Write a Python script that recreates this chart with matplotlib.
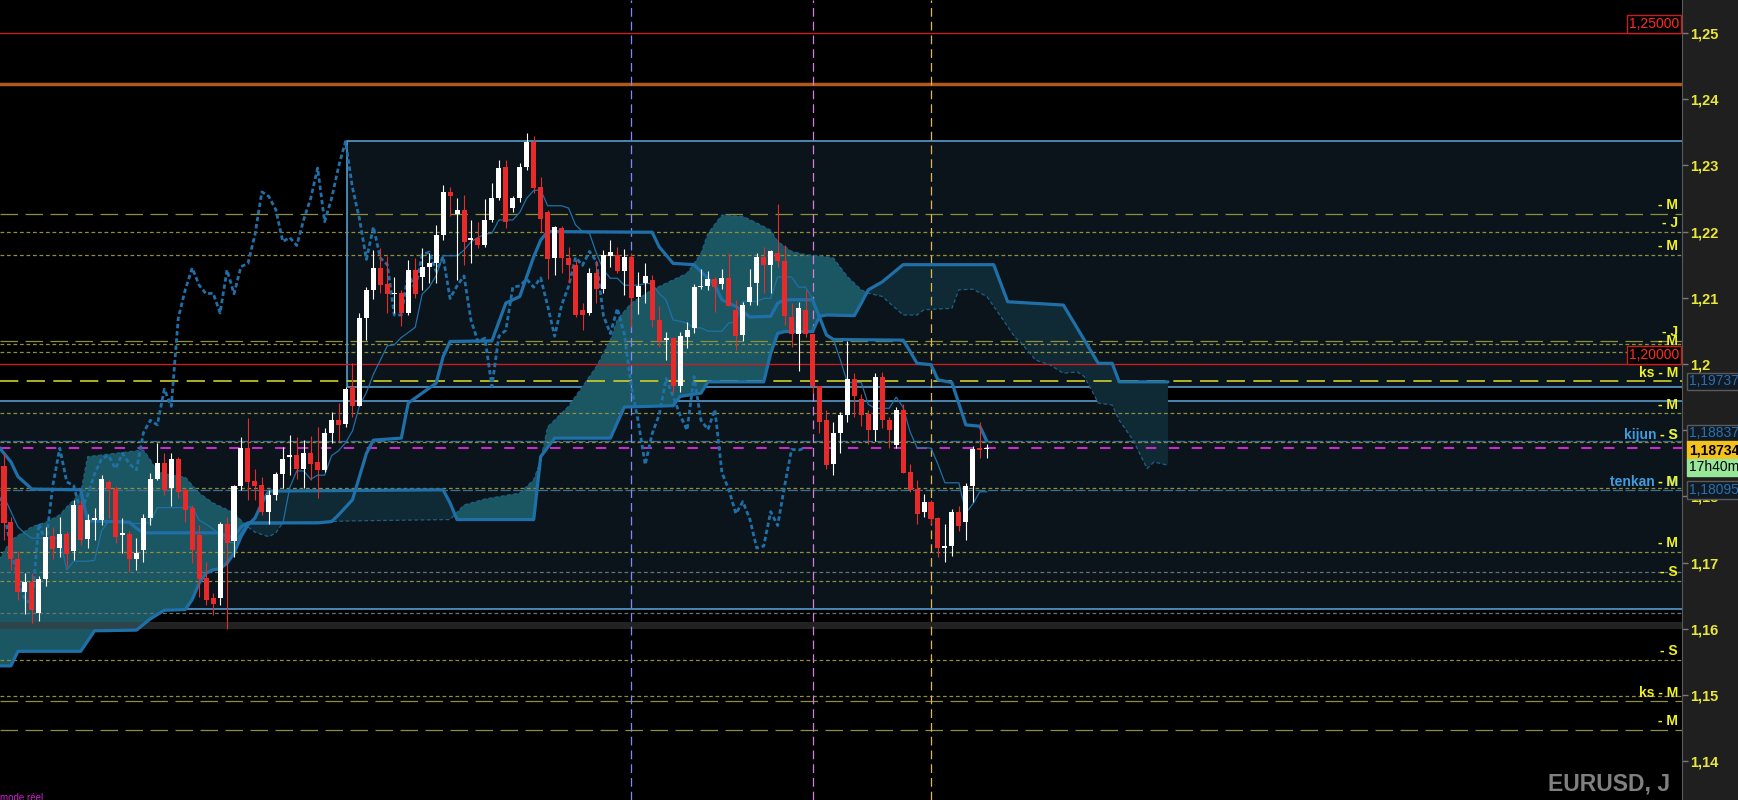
import numpy as np
import pandas as pd
import matplotlib
matplotlib.use('Agg')
import matplotlib.pyplot as plt
from matplotlib.patches import Rectangle
from matplotlib.transforms import blended_transform_factory

plt.rcParams['font.family'] = ['Liberation Sans', 'DejaVu Sans']

# daily EURUSD candles, index 0 = first visible bar
opens = [1.1846, 1.1762, 1.1705, 1.1656, 1.1671, 1.1624, 1.1675, 1.1740, 1.1722, 1.1743,
         1.1717, 1.1787, 1.1735, 1.1765, 1.1765, 1.1821, 1.1811, 1.1742, 1.1743, 1.1705,
         1.1719, 1.1767, 1.1827, 1.1850, 1.1812, 1.1857, 1.1809, 1.1782, 1.1742, 1.1676,
         1.1646, 1.1646, 1.1759, 1.1732, 1.1816, 1.1873, 1.1823, 1.1817, 1.1777, 1.1802,
         1.1834, 1.1859, 1.1862, 1.1842, 1.1865, 1.1852, 1.1840, 1.1896, 1.1915, 1.1910,
         1.1965, 1.1937, 1.2069, 1.2112, 1.2145, 1.2121, 1.2105, 1.2107, 1.2077, 1.2142,
         1.2132, 1.2147, 1.2152, 1.2195, 1.2260, 1.2227, 1.2233, 1.2187, 1.2191, 1.2180,
         1.2218, 1.2250, 1.2298, 1.2235, 1.2250, 1.2298, 1.2336, 1.2267, 1.2229, 1.2160,
         1.2206, 1.2160, 1.2150, 1.2081, 1.2077, 1.2137, 1.2114, 1.2163, 1.2165, 1.2140,
         1.2162, 1.2101, 1.2122, 1.2127, 1.2066, 1.2036, 1.2039, 1.1966, 1.2041, 1.2054,
         1.2116, 1.2118, 1.2128, 1.2121, 1.2130, 1.2082, 1.2044, 1.2093, 1.2122, 1.2161,
         1.2150, 1.2167, 1.2155, 1.2071, 1.2046, 1.2082, 1.2045, 1.1966, 1.1916, 1.1849,
         1.1895, 1.1923, 1.1978, 1.1947, 1.1925, 1.1901, 1.1980, 1.1916, 1.1878, 1.1931,
         1.1837, 1.1811, 1.1776, 1.1791, 1.1767, 1.1722, 1.1725, 1.1777, 1.1762, 1.1816,
         1.1873, 1.1871]
highs = [1.1865, 1.1769, 1.1717, 1.1685, 1.1684, 1.1679, 1.1754, 1.1754, 1.1769, 1.1747,
         1.1795, 1.1795, 1.1774, 1.1782, 1.1832, 1.1825, 1.1816, 1.1768, 1.1747, 1.1737,
         1.1774, 1.1836, 1.1880, 1.1865, 1.1865, 1.1860, 1.1812, 1.1787, 1.1757, 1.1701,
         1.1654, 1.1762, 1.1769, 1.1817, 1.1890, 1.1918, 1.1841, 1.1830, 1.1810, 1.1837,
         1.1875, 1.1893, 1.1890, 1.1885, 1.1891, 1.1905, 1.1904, 1.1928, 1.1941, 1.1965,
         1.2001, 1.2077, 1.2117, 1.2172, 1.2175, 1.2163, 1.2132, 1.2112, 1.2157, 1.2160,
         1.2175, 1.2167, 1.2210, 1.2270, 1.2267, 1.2250, 1.2255, 1.2218, 1.2215, 1.2249,
         1.2273, 1.2308, 1.2308, 1.2253, 1.2303, 1.2349, 1.2344, 1.2283, 1.2233, 1.2208,
         1.2208, 1.2177, 1.2157, 1.2092, 1.2145, 1.2157, 1.2172, 1.2187, 1.2177, 1.2173,
         1.2167, 1.2139, 1.2153, 1.2135, 1.2087, 1.2049, 1.2041, 1.2049, 1.2064, 1.2121,
         1.2143, 1.2140, 1.2132, 1.2143, 1.2168, 1.2097, 1.2093, 1.2143, 1.2168, 1.2177,
         1.2172, 1.2242, 1.2180, 1.2092, 1.2094, 1.2112, 1.2046, 1.1966, 1.1931, 1.1913,
         1.1928, 1.2034, 1.1986, 1.1955, 1.1931, 1.1987, 1.1988, 1.1920, 1.1935, 1.1940,
         1.1849, 1.1825, 1.1804, 1.1795, 1.1769, 1.1758, 1.1781, 1.1786, 1.1820, 1.1876,
         1.1913, 1.1879]
lows = [1.1734, 1.1689, 1.1643, 1.1623, 1.1609, 1.1612, 1.1664, 1.1706, 1.1709, 1.1694,
        1.1704, 1.1727, 1.1722, 1.1734, 1.1757, 1.1767, 1.1729, 1.1714, 1.1686, 1.1689,
        1.1701, 1.1757, 1.1825, 1.1802, 1.1785, 1.1797, 1.1762, 1.1699, 1.1648, 1.1636,
        1.1621, 1.1636, 1.1599, 1.1709, 1.1810, 1.1795, 1.1795, 1.1772, 1.1759, 1.1795,
        1.1812, 1.1832, 1.1827, 1.1812, 1.1825, 1.1797, 1.1837, 1.1880, 1.1883, 1.1905,
        1.1920, 1.1936, 1.2036, 1.2098, 1.2107, 1.2077, 1.2077, 1.2057, 1.2074, 1.2099,
        1.2112, 1.2122, 1.2122, 1.2187, 1.2223, 1.2127, 1.2150, 1.2152, 1.2175, 1.2177,
        1.2215, 1.2248, 1.2206, 1.2230, 1.2245, 1.2293, 1.2258, 1.2200, 1.2129, 1.2135,
        1.2137, 1.2122, 1.2071, 1.2051, 1.2074, 1.2092, 1.2107, 1.2147, 1.2137, 1.2104,
        1.2056, 1.2076, 1.2092, 1.2056, 1.2026, 1.2006, 1.1956, 1.1958, 1.2024, 1.2047,
        1.2114, 1.2112, 1.2079, 1.2114, 1.2087, 1.2021, 1.2034, 1.2089, 1.2089, 1.2107,
        1.2107, 1.2147, 1.2059, 1.2026, 1.1990, 1.2041, 1.1956, 1.1895, 1.1842, 1.1832,
        1.1866, 1.1913, 1.1920, 1.1907, 1.1879, 1.1884, 1.1903, 1.1873, 1.1873, 1.1835,
        1.1807, 1.1759, 1.1769, 1.1758, 1.1709, 1.1701, 1.1710, 1.1747, 1.1734, 1.1792,
        1.1858, 1.1858]
closes = [1.1760, 1.1705, 1.1655, 1.1671, 1.1629, 1.1675, 1.1739, 1.1720, 1.1743, 1.1713,
          1.1787, 1.1734, 1.1764, 1.1768, 1.1827, 1.1811, 1.1739, 1.1744, 1.1705, 1.1715,
          1.1767, 1.1827, 1.1850, 1.1810, 1.1857, 1.1807, 1.1779, 1.1719, 1.1675, 1.1644,
          1.1638, 1.1759, 1.1729, 1.1816, 1.1873, 1.1822, 1.1816, 1.1777, 1.1802, 1.1834,
          1.1857, 1.1862, 1.1842, 1.1865, 1.1849, 1.1840, 1.1896, 1.1915, 1.1908, 1.1962,
          1.1936, 1.2069, 1.2112, 1.2145, 1.2119, 1.2106, 1.2107, 1.2077, 1.2142, 1.2106,
          1.2147, 1.2152, 1.2195, 1.2260, 1.2253, 1.2233, 1.2185, 1.2191, 1.2179, 1.2218,
          1.2250, 1.2296, 1.2215, 1.2250, 1.2298, 1.2336, 1.2266, 1.2219, 1.2158, 1.2207,
          1.2160, 1.2150, 1.2074, 1.2074, 1.2137, 1.2113, 1.2165, 1.2169, 1.2140, 1.2162,
          1.2099, 1.2118, 1.2133, 1.2066, 1.2034, 1.2039, 1.1966, 1.2042, 1.2051, 1.2116,
          1.2118, 1.2128, 1.2116, 1.2130, 1.2088, 1.2042, 1.2089, 1.2117, 1.2161, 1.2149,
          1.2170, 1.2155, 1.2073, 1.2046, 1.2084, 1.2045, 1.1966, 1.1913, 1.1848, 1.1895,
          1.1923, 1.1978, 1.1951, 1.1923, 1.1900, 1.1981, 1.1915, 1.1901, 1.1931, 1.1836,
          1.1810, 1.1774, 1.1792, 1.1766, 1.1722, 1.1725, 1.1777, 1.1756, 1.1816, 1.1871,
          1.1870, 1.18734]

# ichimoku lines (bar index, price)
kijun_idx = [-1, 1, 2, 4, 11, 12, 18, 19, 20, 31, 32, 33, 34, 35, 45, 47, 48, 50, 51, 52,
             53, 57, 58, 62, 63, 64, 70, 72, 74, 75, 76, 77, 78, 93, 94, 96, 99, 102, 103, 105,
             107, 110, 111, 112, 116, 117, 118, 119, 129, 130, 131, 133, 134, 136, 138, 140, 141]
kijun_val = [1.1878, 1.1852, 1.1830, 1.1811, 1.1810, 1.1763, 1.1761, 1.1752, 1.1745, 1.1745,
             1.1739, 1.1739, 1.1754, 1.1760, 1.1760, 1.1762, 1.1772, 1.1795, 1.1830, 1.1865,
             1.1885, 1.1888, 1.1941, 1.1971, 1.2011, 1.2034, 1.2035, 1.2092, 1.2102, 1.2132,
             1.2162, 1.2187, 1.2200, 1.2199, 1.2177, 1.2152, 1.2150, 1.2119, 1.2097, 1.2087,
             1.2071, 1.2072, 1.2092, 1.2097, 1.2097, 1.2071, 1.2044, 1.2037, 1.2036, 1.2019,
             1.2001, 1.1999, 1.1976, 1.1972, 1.1908, 1.1906, 1.18837]
senkou_b_idx = [-1, 1, 2, 11, 13, 19, 21, 23, 26, 27, 28, 29, 30, 31, 32, 33, 34, 35, 36, 37,
                38, 63, 64, 65, 76, 77, 79, 87, 89, 96, 97, 100, 101, 109, 110, 111, 112, 116, 117, 118,
                122, 123, 124, 126, 129, 142, 144, 152, 157, 159, 160, 167]
senkou_b_val = [1.1544, 1.1544, 1.1566, 1.1566, 1.1597, 1.1598, 1.1615, 1.1628, 1.1629, 1.1644,
                1.1669, 1.1684, 1.1689, 1.1691, 1.1699, 1.1714, 1.1739, 1.1757, 1.1767, 1.1790,
                1.1808, 1.1810, 1.1790, 1.1765, 1.1765, 1.1860, 1.1888, 1.1888, 1.1935, 1.1937,
                1.1951, 1.1956, 1.1973, 1.1973, 1.2016, 1.2046, 1.2049, 1.2049, 1.2072, 1.2074,
                1.2073, 1.2092, 1.2112, 1.2124, 1.2150, 1.2150, 1.2094, 1.2089, 1.2001, 1.2001,
                1.1973, 1.1973]
senkou_a_idx = [-1, 1, 4, 6, 8, 9, 11, 12, 20, 21, 22, 24, 26, 28, 30, 33, 34, 35, 36, 38,
                39, 40, 50, 64, 66, 69, 74, 76, 77, 78, 81, 83, 85, 87, 88, 90, 93, 96, 98, 100,
                101, 103, 106, 108, 110, 111, 113, 115, 118, 119, 121, 123, 124, 126, 129, 131, 132, 136,
                137, 139, 141, 143, 145, 146, 148, 150, 152, 154, 155, 157, 159, 160, 162, 164, 165, 167]
senkou_a_val = [1.1699, 1.1734, 1.1754, 1.1761, 1.1772, 1.1784, 1.1805, 1.1860, 1.1870, 1.1855,
                1.1837, 1.1832, 1.1829, 1.1805, 1.1790, 1.1775, 1.1764, 1.1754, 1.1746, 1.1739,
                1.1745, 1.1760, 1.1763, 1.1765, 1.1787, 1.1796, 1.1805, 1.1825, 1.1855, 1.1905,
                1.1936, 1.1966, 1.1996, 1.2036, 1.2067, 1.2092, 1.2112, 1.2127, 1.2137, 1.2167,
                1.2197, 1.2225, 1.2223, 1.2213, 1.2202, 1.2185, 1.2170, 1.2165, 1.2162, 1.2160,
                1.2132, 1.2112, 1.2107, 1.2102, 1.2074, 1.2074, 1.2082, 1.2084, 1.2112, 1.2113,
                1.2102, 1.2072, 1.2041, 1.2031, 1.2006, 1.1999, 1.1986, 1.1988, 1.1981, 1.1941,
                1.1938, 1.1915, 1.1885, 1.1842, 1.1852, 1.1847]

# horizontal levels
red_levels = [1.25000, 1.20000]
orange_level = 1.24225
olive_short = [1.21989, 1.21647, 1.20302, 1.20177, 1.19255, 1.18826, 1.18122, 1.17156,
               1.16722, 1.15529, 1.14985]
olive_long = [1.22261, 1.20343, 1.14909, 1.14471]
gray_short = [1.16863, 1.16234]
ks_level = 1.19737
kijun_last = 1.18837
tenkan_last = 1.18095
last_close = closes[-1]
timer_text = '17h40m'
zone_top = (49.2, 1.23364, 1.19648)     # start bar, top, bottom
zone_low = (-5, 1.19441, 1.16295)
band = (1.16107, 1.15992)
vlines = [(90, '#8585ff'), (116, '#d67ce0'), (133, '#e6b44a')]

labels = [('- M', 1.22402), ('- J', 1.22130), ('- M', 1.21782), ('- J', 1.20490),
          ('- M', 1.20347), ('ks - M', 1.19870), ('- M', 1.19385), ('- M', 1.17292),
          ('- S', 1.16854), ('- S', 1.15669), ('ks - M', 1.15035), ('- M', 1.14607)]
blue_labels = [('kijun - S', '- S', 1.18927), ('tenkan - M', '- M', 1.18221)]

o = np.array(opens); h = np.array(highs); l = np.array(lows); c = np.array(closes)
idx = np.arange(len(c))
tenkan = (pd.Series(h).rolling(9, min_periods=1).max() + pd.Series(l).rolling(9, min_periods=1).min()) / 2

fig = plt.figure(figsize=(17.38, 8.0), dpi=100, facecolor='#1f1f1f')
ax = fig.add_axes([0, 0, 1682 / 1738, 1])
ax.set_facecolor('black')
ax.set_xlim(-0.574, 240.75)
ax.set_ylim(1.13414, 1.25498)

ichi = '#1f70a8'
# zones
for x0, top, bot in [zone_top, zone_low]:
    ax.add_patch(Rectangle((x0, bot), 400, top - bot, fc='#0a141a', ec='#5ea8dd', lw=1.1, zorder=0.5))

# cloud
grid = np.linspace(-1, 167, 3000)
sa = np.interp(grid, senkou_a_idx, senkou_a_val)
sb = np.interp(grid, senkou_b_idx, senkou_b_val)
ax.fill_between(grid, sa, sb, where=sa >= sb, interpolate=True, color='#1a5762', lw=0, zorder=1)
ax.fill_between(grid, sa, sb, where=sa < sb, interpolate=True, color='#0f2a34', lw=0, zorder=1)
ax.axhspan(band[1], band[0], color='#3a3a3a', alpha=0.6, lw=0, zorder=1.2)

# horizontal levels
for p in red_levels:
    ax.axhline(p, color='#c81e1e', lw=1, zorder=2)
ax.axhline(orange_level, color='#b2591a', lw=2.5, zorder=2)
for p in olive_short:
    ax.axhline(p, color='#8e8e3c', lw=0.9, dashes=(3, 2.2), zorder=2)
for p in olive_long:
    ax.axhline(p, color='#8e8e3c', lw=0.9, dashes=(14, 6), zorder=2)
for p in gray_short:
    ax.axhline(p, color='#687474', lw=0.9, dashes=(3, 2.2), zorder=2)
ax.axhline(ks_level, color='#cfcf2a', lw=1.2, dashes=(11, 5), zorder=2)
ax.axhline(kijun_last, color='#3a6f95', lw=0.9, dashes=(8, 2), zorder=2)
ax.axhline(tenkan_last, color='#3a6f95', lw=0.9, dashes=(8, 2), zorder=2)
ax.axhline(last_close, color='#c82cc8', lw=1.5, dashes=(5, 6), zorder=2)
for xv, col in vlines:
    ax.axvline(xv, color=col, lw=0.9, dashes=(7, 4), zorder=2)

# ichimoku lines
ax.plot(senkou_a_idx, senkou_a_val, color='#1f5f88', lw=0.9, dashes=(3, 2), zorder=3)
ax.plot(senkou_b_idx, senkou_b_val, color=ichi, lw=2.3, zorder=3, solid_capstyle='round')
ax.plot(kijun_idx, kijun_val, color=ichi, lw=2.3, zorder=3, solid_capstyle='round')
ax.plot(idx, tenkan, color=ichi, lw=0.9, zorder=3)
ax.plot(idx[25:] - 26, c[25:], color=ichi, lw=2.0, dashes=(1.6, 1.0), zorder=3)

# candles
up = c >= o
cols = np.where(up, '#ffffff', '#e82a2a')
ax.vlines(idx, l, h, colors=cols, lw=0.8, zorder=4)
ax.bar(idx, np.maximum(np.abs(c - o), 0.00018), bottom=np.minimum(o, c), width=0.72,
       color=cols, lw=0, zorder=4)

# axis
ax.set_xticks([])
ax.yaxis.tick_right()
ticks = np.round(np.arange(1.14, 1.2501, 0.01), 2)
ax.set_yticks(ticks)
ax.set_yticklabels([('%.2f' % t).rstrip('0').replace('.', ',') for t in ticks])
ax.tick_params(axis='y', colors='#7a7a7a', length=4.5, width=1, pad=1, labelsize=10.5,
               labelcolor='#e8e83a')
for lbl in ax.get_yticklabels():
    lbl.set_fontweight('bold')
for s in ['left', 'top', 'bottom']:
    ax.spines[s].set_visible(False)
ax.spines['right'].set_color('#5a5a5a')

# labels in the plot
lx = 1678 / 1682
tr = blended_transform_factory(ax.transAxes, ax.transData)
for txt, p in labels:
    ax.text(lx, p, txt, transform=tr, ha='right', va='center', color='#f2f21e',
            fontsize=10, fontweight='bold', zorder=6)
for full, tail, p in blue_labels:
    ax.text(lx, p, full, transform=tr, ha='right', va='center', color='#3f9ee0',
            fontsize=10, fontweight='bold', zorder=6)
    ax.text(lx, p, tail, transform=tr, ha='right', va='center', color='#f2f21e',
            fontsize=10, fontweight='bold', zorder=6)

# price boxes
tf = blended_transform_factory(fig.transFigure, ax.transData)
def box(x, p, txt, fc, ec, tc, ha='left', weight='normal'):
    ax.text(x / 1738, p, txt, transform=tf, ha=ha, va='center', color=tc, fontsize=10,
            fontweight=weight, clip_on=False, zorder=10,
            bbox=dict(boxstyle='square,pad=0.12', fc=fc, ec=ec, lw=1))

fmt = lambda v: ('%.5f' % v).replace('.', ',')
for p in red_levels:
    box(1679, p + 0.00135, fmt(p), 'black', '#c81e1e', '#ff2a2a', ha='right')
box(1689, ks_level, fmt(ks_level), '#111a22', '#5a5a5a', '#2a70b0')
box(1689, 1.18950, fmt(kijun_last), '#111a22', '#5a5a5a', '#2a70b0')
box(1689, 1.18700, fmt(last_close), '#f5c21c', '#f5c21c', 'black', weight='bold')
box(1689, 1.18440, timer_text, '#98e698', '#98e698', 'black')
box(1689, tenkan_last, fmt(tenkan_last), '#111a22', '#5a5a5a', '#2a70b0')

fig.text(1670 / 1738, 10 / 800, 'EURUSD, J', ha='right', va='baseline', color='#808080',
         fontsize=16.5, fontweight='bold')
fig.text(0, -3 / 800, 'mode réel', ha='left', va='bottom', color='#d020d0', fontsize=7)

fig.savefig('out.png', dpi=100, facecolor=fig.get_facecolor())
